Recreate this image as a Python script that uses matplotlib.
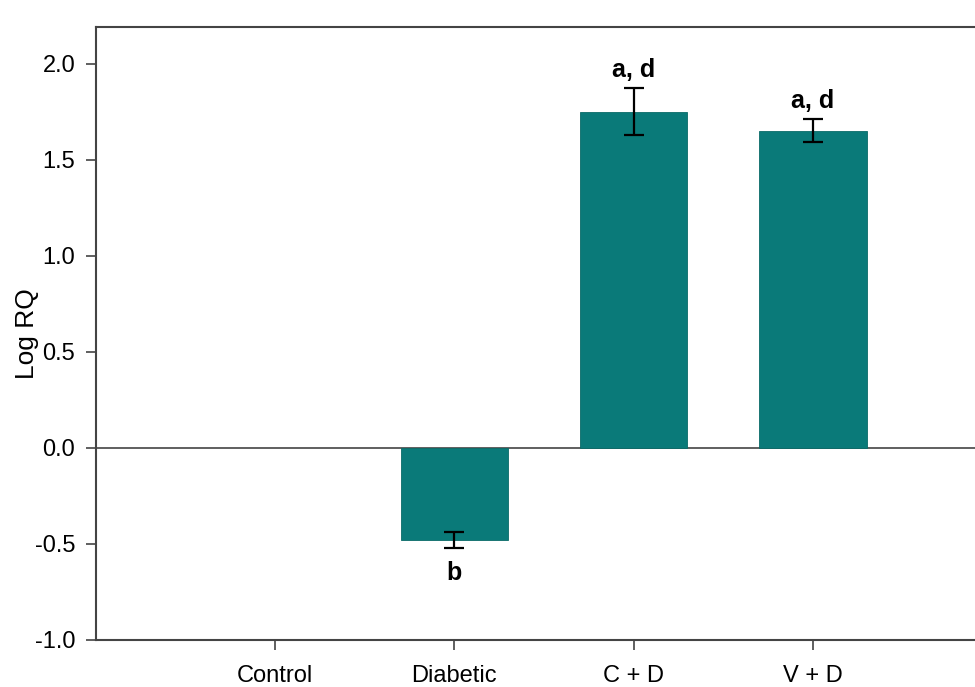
import matplotlib.pyplot as plt
import numpy as np

plt.rcParams['font.family'] = ['Liberation Sans', 'DejaVu Sans']

grupos = ['Control', 'Diabetic', 'C + D', 'V + D']
log_rq = [0.0, -0.48, 1.75, 1.65]
errores = [0.0, 0.04, 0.12, 0.06]
letras = ['', 'b', 'a, d', 'a, d']

color_barra = '#0A7A79'
color_eje = '#444444'

fig = plt.figure(figsize=(9.75, 6.87), dpi=100)
# el marco sigue más allá del borde derecho, como en la figura original
ax = fig.add_axes([96 / 975, 47 / 687, 896 / 975, 613 / 687])

x = np.arange(len(grupos))
ax.bar(x[1:], log_rq[1:], width=0.6, color=color_barra, edgecolor='#0A6A68', linewidth=0.6, zorder=2)
ax.errorbar(x[1:], log_rq[1:], yerr=errores[1:], fmt='none', ecolor='black',
            elinewidth=1.6, capsize=7, capthick=1.6, zorder=3)
ax.axhline(0, color=color_eje, linewidth=1.2, zorder=1)

for xi, v, e, t in zip(x, log_rq, errores, letras):
    if not t:
        continue
    if v >= 0:
        ax.text(xi, v + e + 0.035, t, ha='center', va='bottom', fontsize=18, fontweight='bold')
    else:
        ax.text(xi, v - e - 0.07, t, ha='center', va='top', fontsize=18, fontweight='bold')

ax.set_xlim(-1, 4)
ax.set_ylim(-1.0, 2.19)
ax.set_xticks(x)
ax.set_xticklabels(grupos, fontsize=17)
ax.set_yticks([-1.0, -0.5, 0.0, 0.5, 1.0, 1.5, 2.0])
ax.set_yticklabels(['-1.0', '-0.5', '0.0', '0.5', '1.0', '1.5', '2.0'], fontsize=17)
ax.tick_params(axis='both', direction='out', length=7, width=1.2, color=color_eje)
ax.tick_params(axis='y', pad=8)
ax.tick_params(axis='x', pad=11)
ax.set_ylabel('Log RQ', fontsize=19)
ax.yaxis.set_label_coords(-0.064, 0.5)

for lado in ['left', 'bottom', 'top']:
    ax.spines[lado].set_color(color_eje)
    ax.spines[lado].set_linewidth(1.5)
ax.spines['right'].set_visible(False)

plt.savefig('out.png', dpi=100)
